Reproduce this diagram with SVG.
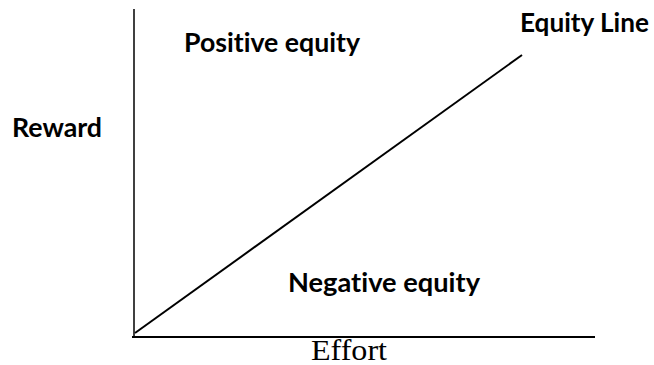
<svg xmlns="http://www.w3.org/2000/svg" width="654" height="365" viewBox="0 0 654 365">
<style>
.lbl{font-family:Lato,"Open Sans",sans-serif;font-weight:bold;font-size:26px;fill:#000;font-variant-ligatures:none;font-feature-settings:"liga" 0}
.ax{font-family:"Liberation Serif",serif;font-size:30px;fill:#000}
.ln{stroke:#000;fill:none}
</style>
<rect width="654" height="365" fill="#fff"/>
<g id="connectors">
<line class="ln" stroke-width="1.5" x1="134" y1="9" x2="134" y2="337"/>
<line class="ln" stroke-width="2" x1="132" y1="337" x2="595" y2="337"/>
<line class="ln" stroke-width="2" x1="135" y1="333" x2="522" y2="55"/>
</g>
<g id="positive"><text class="lbl" x="184" y="52" textLength="176" lengthAdjust="spacingAndGlyphs">Positive equity</text></g>
<g id="equity-line"><text class="lbl" x="520" y="32" textLength="129" lengthAdjust="spacingAndGlyphs">Equity Line</text></g>
<g id="reward"><text class="lbl" x="12" y="137" textLength="90" lengthAdjust="spacingAndGlyphs">Reward</text></g>
<g id="negative"><text class="lbl" x="288" y="292" textLength="192" lengthAdjust="spacingAndGlyphs">Negative equity</text></g>
<g id="effort"><text class="ax" x="311" y="360" textLength="76" lengthAdjust="spacingAndGlyphs">Effort</text></g>
</svg>
